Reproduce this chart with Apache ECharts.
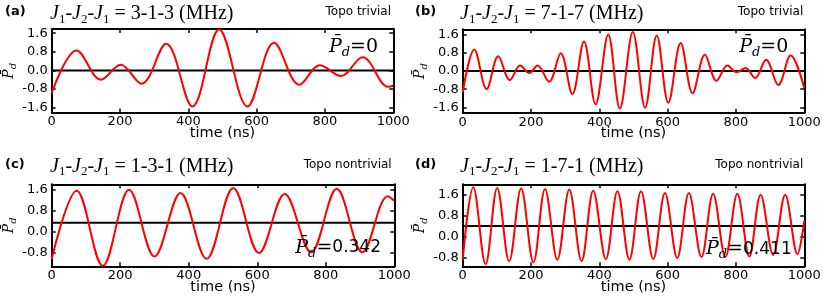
<!DOCTYPE html>
<html><head><meta charset="utf-8">
<script src="https://cdn.jsdelivr.net/npm/echarts@6/dist/echarts.min.js"></script>
<style>html,body{margin:0;padding:0;background:#fff}#c{width:823px;height:304px}</style>
</head><body><div id="c"></div>
<script>
// ---- data ----
const timeA = [0,73,144,202,263,335,412,490,573,651,725,785,847,910,985,1000];
const pdA   = [-0.98,0.86,-0.40,0.24,-0.57,1.15,-1.55,1.76,-1.55,1.19,-0.62,0.22,-0.24,0.57,-0.70,-0.66];
const timeB = [0,34,70,104,138,168,195,219,253,287,321,355,389,426,460,498,534,568,602,638,673,709,743,775,802,828,856,888,924,960,1000];
const pdB   = [-0.95,0.95,-0.80,0.65,-0.40,0.24,-0.09,0.24,-0.47,0.78,-1.02,1.30,-1.47,1.61,-1.66,1.72,-1.62,1.57,-1.40,1.23,-0.98,0.72,-0.43,0.24,-0.06,0.13,-0.31,0.50,-0.62,0.68,-0.75];
const timeC = [0,73,149,226,300,376,452,530,605,680,757,832,907,981,1000];
const pdC   = [-1.03,1.55,-1.28,1.58,-0.93,1.46,-1.02,1.65,-0.80,1.42,-0.77,1.62,-0.77,1.34,1.17];
const timeD = [0,31,67,101,136,171,207,241,277,312,348,382,419,453,488,522,558,592,628,662,699,733,769,804,839,872,909,944,980,1000];
const pdD   = [-0.86,1.87,-1.03,1.84,-0.92,1.82,-0.96,1.80,-0.86,1.78,-0.92,1.74,-0.84,1.72,-0.86,1.72,-0.84,1.65,-0.80,1.65,-0.76,1.62,-0.76,1.62,-0.74,1.59,-0.68,1.59,-0.65,0.61];
const meanPd = [0, 0, 0.342, 0.411];
const meanPdLabel = ['0', '0', '0.342', '0.411'];
const couplings = ['3-1-3', '7-1-7', '1-3-1', '1-7-1'];
const panelLabels = ['(a)', '(b)', '(c)', '(d)'];
const phaseLabels = ['Topo trivial', 'Topo trivial', 'Topo nontrivial', 'Topo nontrivial'];
const xTicks = [0, 200, 400, 600, 800, 1000];
const yTicks = [-1.6, -0.8, 0.0, 0.8, 1.6];
const yRanges = [[-1.81, 1.78], [-1.84, 1.84], [-1.30, 1.79], [-1.11, 1.98]];
const xRange = [0, 1000];
const xName = 'time (ns)';

const times = [timeA, timeB, timeC, timeD];
const pds = [pdA, pdB, pdC, pdD];

// ---- layout ----
const grids = [
  {left: 51.7, top: 29, width: 341.6, height: 83.5},
  {left: 462.7, top: 29.3, width: 341.6, height: 83.4},
  {left: 51.7, top: 184.3, width: 342.6, height: 82},
  {left: 462.7, top: 184.3, width: 341.6, height: 82}
];
const labelPos = [[5, 12], [415, 12], [5, 165], [415, 165]];
const titlePos = [[50, 14], [460, 14], [50, 166.5], [460, 166.5]];
const phasePos = [[391, 11.5], [803.3, 11.5], [391.7, 165], [803.3, 165]];
const annPos = [[378, 47], [788.3, 47], [381, 248], [791.7, 249.5]];

const axisLine = {show: true, onZero: false, lineStyle: {color: '#000', width: 2}};
const tick = {show: true, inside: true, length: 4, lineStyle: {color: '#000', width: 1.5}};
const sans = 'DejaVu Sans';
const serif = 'Liberation Serif';

const xAxis = [], yAxis = [], series = [], graphic = [];
grids.forEach((g, i) => {
  g.outerBoundsMode = 'none';
  g.containLabel = false;
  xAxis.push({
    type: 'value', gridIndex: i, min: xRange[0], max: xRange[1], interval: 200, position: 'bottom',
    axisLine, axisTick: tick, splitLine: {show: false},
    axisLabel: {fontFamily: sans, fontSize: 13, color: '#000', margin: 3, customValues: xTicks,
      formatter: v => String(v)},
    name: xName, nameLocation: 'middle', nameGap: 13.5, nameMoveOverlap: false,
    nameTextStyle: {fontFamily: sans, fontSize: 14.5, color: '#000', verticalAlign: 'top'}
  });
  xAxis.push({
    type: 'value', gridIndex: i, min: xRange[0], max: xRange[1], interval: 200, position: 'top',
    axisLine, axisTick: tick, splitLine: {show: false}, axisLabel: {show: false}
  });
  yAxis.push({
    type: 'value', gridIndex: i, min: yRanges[i][0], max: yRanges[i][1], position: 'left',
    axisLine, axisTick: Object.assign({customValues: yTicks}, tick), splitLine: {show: false},
    axisLabel: {fontFamily: sans, fontSize: 13, color: '#000', margin: 4, customValues: yTicks,
      formatter: v => v.toFixed(1)},
    name: '{p|P\u0304}{d|d}', nameLocation: 'middle', nameRotate: 90, nameGap: 33, nameMoveOverlap: false,
    nameTextStyle: {color: '#000', rich: {
      p: {fontFamily: 'DejaVu Serif', fontStyle: 'italic', fontSize: 14, lineHeight: 18, color: '#000'},
      d: {fontFamily: 'DejaVu Serif', fontStyle: 'italic', fontSize: 10, lineHeight: 10, verticalAlign: 'bottom', color: '#000'}
    }}
  });
  yAxis.push({
    type: 'value', gridIndex: i, min: yRanges[i][0], max: yRanges[i][1], position: 'right',
    axisLine, axisTick: Object.assign({customValues: yTicks}, tick), splitLine: {show: false},
    axisLabel: {show: false}
  });
  series.push({
    type: 'line', xAxisIndex: 2 * i, yAxisIndex: 2 * i, symbol: 'none', silent: true, z: 2,
    lineStyle: {color: '#000', width: 2},
    data: [[xRange[0], meanPd[i]], [xRange[1], meanPd[i]]]
  });
  series.push({
    type: 'line', xAxisIndex: 2 * i, yAxisIndex: 2 * i, symbol: 'none', silent: true, z: 3,
    smooth: 0.36, lineStyle: {color: '#ff0000', width: 2},
    data: times[i].map((t, k) => [t, pds[i][k]])
  });

  graphic.push({type: 'text', z: 100, silent: true, style: {
    x: labelPos[i][0], y: labelPos[i][1], text: panelLabels[i], fill: '#000',
    font: 'bold 13px "DejaVu Sans"', align: 'left', verticalAlign: 'middle'}});
  graphic.push({type: 'text', z: 100, silent: true, style: {
    x: titlePos[i][0], y: titlePos[i][1], align: 'left', verticalAlign: 'middle', fill: '#000',
    text: '{i|J}{s|1}{n|-}{i|J}{s|2}{n|-}{i|J}{s|1}{n| = ' + couplings[i] + ' (MHz)}',
    rich: {
      i: {fontFamily: serif, fontStyle: 'italic', fontSize: 20, lineHeight: 24, fill: '#000'},
      s: {fontFamily: serif, fontSize: 13, lineHeight: 13, verticalAlign: 'bottom', fill: '#000'},
      n: {fontFamily: serif, fontSize: 20, lineHeight: 24, fill: '#000'}
    }}});
  graphic.push({type: 'text', z: 100, silent: true, style: {
    x: phasePos[i][0], y: phasePos[i][1], text: phaseLabels[i], fill: '#000',
    font: '12px "DejaVu Sans"', align: 'right', verticalAlign: 'middle'}});
  const valFont = i < 2 ? 'DejaVu Serif' : sans;
  graphic.push({type: 'text', z: 100, silent: true, style: {
    x: annPos[i][0], y: annPos[i][1], align: 'right', verticalAlign: 'middle', fill: '#000',
    text: '{p|P\u0304}{d|d}{e|=}{v|' + meanPdLabel[i] + '}',
    rich: {
      p: {fontFamily: 'DejaVu Serif', fontStyle: 'italic', fontSize: 19, lineHeight: 24, fill: '#000'},
      d: {fontFamily: 'DejaVu Serif', fontStyle: 'italic', fontSize: 13, lineHeight: 13, verticalAlign: 'bottom', fill: '#000'},
      e: {fontFamily: 'DejaVu Serif', fontSize: 19, lineHeight: 24, fill: '#000'},
      v: {fontFamily: valFont, fontSize: i < 2 ? 19 : 17, lineHeight: 24, fill: '#000'}
    }}});
});

const chart = echarts.init(document.getElementById('c'), null, {renderer: 'canvas'});
chart.setOption({
  animation: false,
  backgroundColor: '#fff',
  grid: grids, xAxis, yAxis, series, graphic
});
</script>
</body></html>
